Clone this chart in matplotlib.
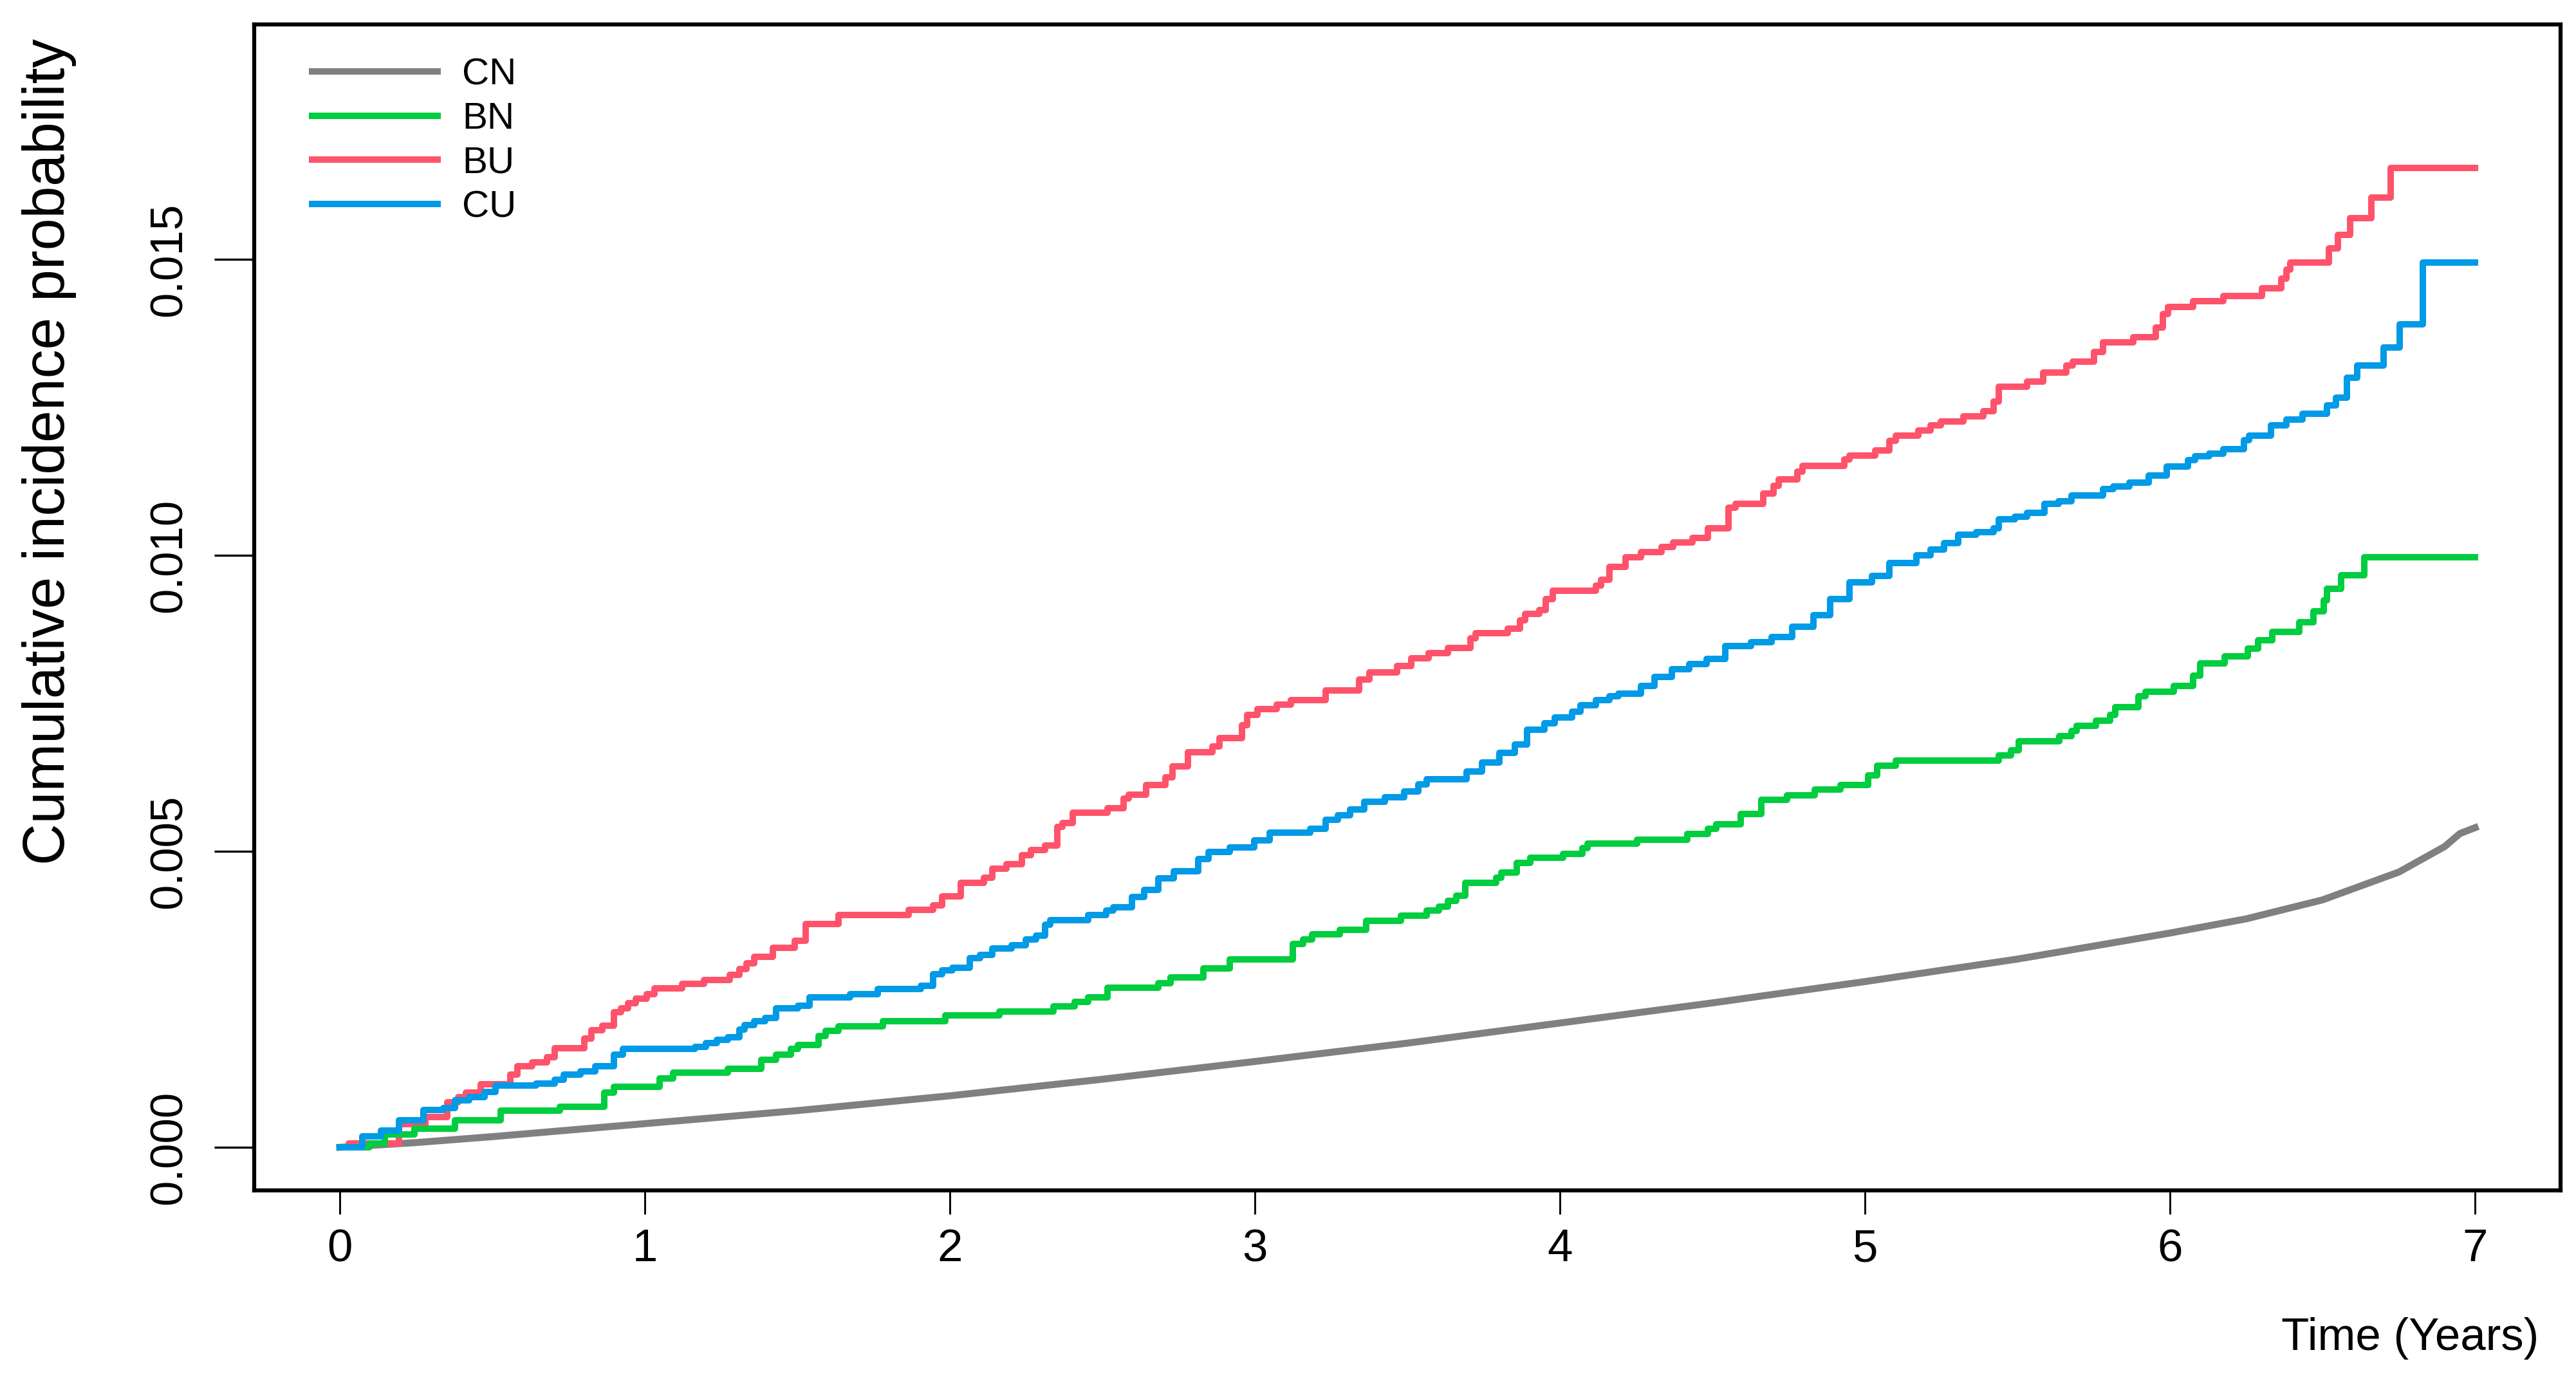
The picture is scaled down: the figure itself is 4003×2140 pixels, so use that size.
import matplotlib
matplotlib.use("Agg")
import matplotlib.pyplot as plt

plt.rcParams['font.family'] = ['Liberation Sans', 'DejaVu Sans']

# cumulative incidence by group
# step curves: time of each jump (years) and the level after it
cn_time = [0, 0.25, 0.5, 0.75, 1.0, 1.5, 2.0, 2.5, 3.0, 3.5, 4.0, 4.5, 5.0, 5.5,
           6.0, 6.25, 6.5, 6.75, 6.9, 6.95, 7.0]
cn_prob = [0, 0.00008, 0.00018, 0.00029, 0.0004, 0.00062, 0.00087, 0.00115, 0.00145,
           0.00176, 0.0021, 0.00244, 0.0028, 0.00318, 0.00362, 0.00386, 0.00418,
           0.00465, 0.00508, 0.0053, 0.0054]

bn_time = [0, 0.098, 0.147, 0.244, 0.377, 0.528, 0.722, 0.867, 0.898, 1.049, 1.092,
           1.273, 1.382, 1.431, 1.479, 1.503, 1.570, 1.594, 1.636, 1.780, 1.986,
           2.163, 2.340, 2.409, 2.454, 2.517, 2.683, 2.723, 2.832, 2.918, 3.124,
           3.158, 3.187, 3.278, 3.364, 3.478, 3.564, 3.604, 3.632, 3.660, 3.689,
           3.790, 3.807, 3.858, 3.903, 4.011, 4.073, 4.090, 4.253, 4.418, 4.485,
           4.513, 4.593, 4.660, 4.745, 4.835, 4.920, 5.011, 5.039, 5.101, 5.439,
           5.479, 5.503, 5.636, 5.676, 5.693, 5.757, 5.803, 5.821, 5.896, 5.919,
           6.012, 6.075, 6.099, 6.179, 6.255, 6.289, 6.336, 6.423, 6.469, 6.504,
           6.515, 6.561, 6.636, 7.0]
bn_prob = [0, 0.00007, 0.00022, 0.00032, 0.00046, 0.00062, 0.00069, 0.00092, 0.00102,
           0.00116, 0.00126, 0.00133, 0.00148, 0.00157, 0.00166, 0.00173, 0.00188,
           0.00197, 0.00204, 0.00213, 0.00223, 0.00229, 0.00238, 0.00246, 0.00253,
           0.00270, 0.00277, 0.00287, 0.00302, 0.00317, 0.00343, 0.00351, 0.00360,
           0.00367, 0.00383, 0.00391, 0.00400, 0.00407, 0.00416, 0.00425, 0.00447,
           0.00456, 0.00464, 0.00481, 0.00489, 0.00496, 0.00505, 0.00513, 0.00520,
           0.00529, 0.00538, 0.00546, 0.00563, 0.00587, 0.00595, 0.00604, 0.00612,
           0.00628, 0.00645, 0.00653, 0.00662, 0.00671, 0.00686, 0.00695, 0.00703,
           0.00712, 0.00721, 0.00730, 0.00744, 0.00762, 0.00770, 0.00779, 0.00797,
           0.00817, 0.00829, 0.00842, 0.00857, 0.00871, 0.00887, 0.00905, 0.00924,
           0.00943, 0.00966, 0.00997, 0.00997]

bu_time = [0, 0.03, 0.195, 0.280, 0.353, 0.389, 0.413, 0.462, 0.559, 0.583, 0.631,
           0.680, 0.704, 0.801, 0.825, 0.861, 0.898, 0.922, 0.946, 0.971, 1.007,
           1.031, 1.122, 1.195, 1.279, 1.310, 1.334, 1.358, 1.419, 1.491, 1.528,
           1.636, 1.866, 1.946, 1.974, 2.037, 2.112, 2.140, 2.186, 2.237, 2.266,
           2.312, 2.352, 2.369, 2.403, 2.517, 2.569, 2.586, 2.643, 2.706, 2.729,
           2.780, 2.860, 2.883, 2.958, 2.975, 3.009, 3.072, 3.118, 3.232, 3.341,
           3.375, 3.467, 3.513, 3.570, 3.632, 3.706, 3.723, 3.830, 3.870, 3.887,
           3.932, 3.954, 3.977, 4.118, 4.135, 4.163, 4.214, 4.265, 4.333, 4.372,
           4.435, 4.485, 4.553, 4.576, 4.666, 4.700, 4.717, 4.779, 4.796, 4.932,
           4.949, 5.034, 5.079, 5.101, 5.175, 5.214, 5.248, 5.323, 5.387, 5.422,
           5.439, 5.531, 5.584, 5.659, 5.682, 5.751, 5.780, 5.879, 5.954, 5.977,
           5.994, 6.075, 6.174, 6.301, 6.365, 6.382, 6.394, 6.521, 6.550, 6.590,
           6.660, 6.723, 7.0]
bu_prob = [0, 0.00007, 0.00039, 0.00051, 0.00076, 0.00085, 0.00092, 0.00107, 0.00123,
           0.00137, 0.00144, 0.00152, 0.00167, 0.00184, 0.00198, 0.00206, 0.00228,
           0.00235, 0.00244, 0.00251, 0.00259, 0.00269, 0.00276, 0.00283, 0.00291,
           0.00301, 0.00311, 0.00322, 0.00337, 0.00349, 0.00377, 0.00392, 0.00401,
           0.00409, 0.00424, 0.00447, 0.00456, 0.00471, 0.00478, 0.00494, 0.00502,
           0.00510, 0.00541, 0.00548, 0.00565, 0.00573, 0.00589, 0.00596, 0.00612,
           0.00625, 0.00643, 0.00667, 0.00677, 0.00691, 0.00713, 0.00731, 0.00740,
           0.00748, 0.00755, 0.00772, 0.00790, 0.00802, 0.00813, 0.00826, 0.00835,
           0.00844, 0.00860, 0.00868, 0.00876, 0.00890, 0.00901, 0.00908, 0.00926,
           0.00940, 0.00949, 0.00959, 0.00980, 0.00997, 0.01005, 0.01014, 0.01022,
           0.01029, 0.01046, 0.01080, 0.01087, 0.01104, 0.01117, 0.01128, 0.01141,
           0.01151, 0.01162, 0.01169, 0.01177, 0.01193, 0.01202, 0.01211, 0.01220,
           0.01226, 0.01235, 0.01244, 0.01260, 0.01285, 0.01293, 0.01309, 0.01321,
           0.01327, 0.01344, 0.01360, 0.01369, 0.01385, 0.01408, 0.01420, 0.01429,
           0.01438, 0.01451, 0.01467, 0.01483, 0.01495, 0.01518, 0.01541, 0.01570,
           0.01604, 0.01654, 0.01654]

cu_time = [0, 0.074, 0.135, 0.195, 0.274, 0.341, 0.377, 0.425, 0.474, 0.510, 0.643,
           0.704, 0.734, 0.789, 0.837, 0.898, 0.928, 1.164, 1.200, 1.237, 1.273,
           1.310, 1.328, 1.358, 1.394, 1.431, 1.503, 1.540, 1.673, 1.764, 1.905,
           1.946, 1.974, 2.008, 2.065, 2.100, 2.140, 2.203, 2.249, 2.283, 2.312,
           2.329, 2.454, 2.512, 2.535, 2.597, 2.637, 2.683, 2.735, 2.815, 2.849,
           2.918, 2.998, 3.049, 3.181, 3.232, 3.272, 3.312, 3.358, 3.427, 3.490,
           3.536, 3.564, 3.694, 3.745, 3.802, 3.852, 3.892, 3.949, 3.983, 4.039,
           4.067, 4.118, 4.163, 4.192, 4.265, 4.310, 4.367, 4.423, 4.480, 4.542,
           4.626, 4.694, 4.762, 4.830, 4.886, 4.949, 5.022, 5.079, 5.169, 5.214,
           5.259, 5.306, 5.364, 5.422, 5.439, 5.491, 5.531, 5.589, 5.635, 5.676,
           5.780, 5.815, 5.867, 5.931, 5.989, 6.058, 6.081, 6.128, 6.174, 6.243,
           6.260, 6.330, 6.382, 6.434, 6.515, 6.544, 6.579, 6.613, 6.700, 6.752,
           6.828, 7.0]
cu_prob = [0, 0.00018, 0.00028, 0.00046, 0.00063, 0.00066, 0.00079, 0.00085, 0.00094,
           0.00104, 0.00108, 0.00114, 0.00123, 0.00128, 0.00137, 0.00157, 0.00166,
           0.00170, 0.00176, 0.00182, 0.00186, 0.00199, 0.00207, 0.00213, 0.00219,
           0.00235, 0.00239, 0.00253, 0.00259, 0.00267, 0.00273, 0.00292, 0.00299,
           0.00303, 0.00320, 0.00325, 0.00336, 0.00341, 0.00351, 0.00358, 0.00376,
           0.00384, 0.00392, 0.00400, 0.00406, 0.00423, 0.00435, 0.00454, 0.00466,
           0.00487, 0.00499, 0.00507, 0.00518, 0.00532, 0.00538, 0.00553, 0.00561,
           0.00571, 0.00584, 0.00591, 0.00601, 0.00613, 0.00622, 0.00635, 0.00650,
           0.00666, 0.00681, 0.00706, 0.00716, 0.00726, 0.00736, 0.00747, 0.00755,
           0.00762, 0.00766, 0.00779, 0.00795, 0.00808, 0.00816, 0.00825, 0.00847,
           0.00853, 0.00862, 0.00879, 0.00899, 0.00926, 0.00954, 0.00965, 0.00987,
           0.01000, 0.01010, 0.01021, 0.01035, 0.01039, 0.01046, 0.01061, 0.01065,
           0.01072, 0.01087, 0.01091, 0.01101, 0.01112, 0.01116, 0.01123, 0.01135,
           0.01150, 0.01161, 0.01167, 0.01172, 0.01179, 0.01195, 0.01202, 0.01220,
           0.01229, 0.01239, 0.01253, 0.01266, 0.01300, 0.01321, 0.01351, 0.01390,
           0.01495, 0.01495]

group_names = ['CN', 'BN', 'BU', 'CU']
group_colors = ['#808080', '#00CD3F', '#FF536B', '#009AE6']

x_ticks = [0, 1, 2, 3, 4, 5, 6, 7]
y_ticks = [0.0, 0.005, 0.010, 0.015]
y_tick_labels = ['0.000', '0.005', '0.010', '0.015']

fig = plt.figure(figsize=(4003 / 300, 2140 / 300), dpi=300)
ax = fig.add_axes([0.0987, 0.1355, 0.8953, 0.8467])

lw = 2.4
h_cn, = ax.plot(cn_time, cn_prob, color=group_colors[0], lw=lw + 0.2, zorder=2)
h_bu, = ax.step(bu_time, bu_prob, where='post', color=group_colors[2], lw=lw, zorder=3)
h_bn, = ax.step(bn_time, bn_prob, where='post', color=group_colors[1], lw=lw, zorder=4)
h_cu, = ax.step(cu_time, cu_prob, where='post', color=group_colors[3], lw=lw, zorder=5)

ax.set_xlim(-0.28, 7.28)
ax.set_ylim(-0.000728, 0.018967)

ax.set_xticks(x_ticks)
ax.set_xticklabels([str(v) for v in x_ticks])
ax.set_yticks(y_ticks)
ax.set_yticklabels(y_tick_labels, rotation=90, va='center')

ax.tick_params(axis='x', direction='out', length=8.9, width=0.7, pad=5.3, labelsize=17)
ax.tick_params(axis='y', direction='out', length=15, width=0.8, pad=8.5, labelsize=17)

for sp in ax.spines.values():
    sp.set_linewidth(1.5)

leg = ax.legend([h_cn, h_bn, h_bu, h_cu], group_names, loc='upper left',
                bbox_to_anchor=(0.0251, 0.9716), frameon=False, fontsize=14,
                handlelength=3.34, handletextpad=0.66, labelspacing=0.25,
                borderpad=0, borderaxespad=0)
for line in leg.get_lines():
    line.set_linewidth(2.4)

fig.text(77 / 4003, 1 - 702 / 2140, 'Cumulative incidence probability',
         rotation=90, ha='center', va='center', fontsize=21.5)
fig.text(3945 / 4003, 1 - 2098 / 2140, 'Time (Years)', ha='right',
         va='baseline', fontsize=17)

fig.savefig('out.png', dpi=300)
